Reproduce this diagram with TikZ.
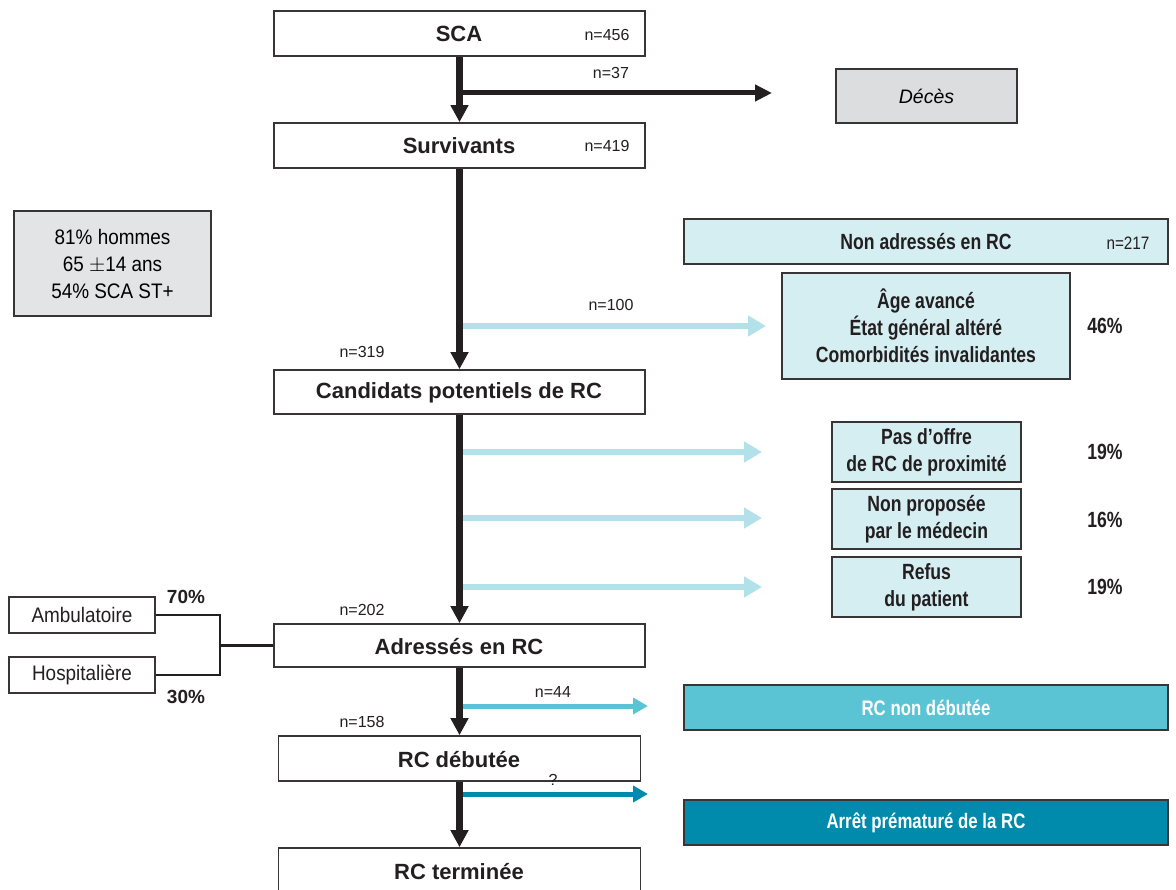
\documentclass[tikz,border=0pt]{standalone}
\usepackage{fontspec}
\setmainfont{Liberation Sans}
\newfontfamily\cond{Liberation Sans}[FakeStretch=0.8]
\newfontfamily\semicond{Liberation Sans}[FakeStretch=0.9]
\newfontfamily\ncond{Liberation Sans}[FakeStretch=0.85]
\usetikzlibrary{arrows.meta,calc}
\definecolor{ink}{HTML}{231F20}
\definecolor{lblue}{HTML}{D5EEF2}
\definecolor{arrblue}{HTML}{B2E1E9}
\definecolor{midblue}{HTML}{5BC4D4}
\definecolor{darkblue}{HTML}{008AAC}
\definecolor{greyfill}{HTML}{E3E4E6}
\definecolor{decesfill}{HTML}{DCDDDF}
\tikzset{
  box/.style={draw=ink!90, line width=1.6pt, fill=white, inner sep=0pt, align=center},
  mainlbl/.style={font=\bfseries\fontsize{22}{26}\selectfont, text=ink},
  nlbl/.style={font=\fontsize{16}{19}\selectfont, text=ink, inner sep=0pt},
  condlbl/.style={font=\cond\bfseries\fontsize{22}{27}\selectfont, text=ink, align=center},
  pctlbl/.style={font=\cond\bfseries\fontsize{22}{26}\selectfont, text=ink, inner sep=0pt},
  flow/.style={draw=ink, line width=7pt, -{Triangle[length=17pt,width=17pt]}},
  flowh/.style={draw=ink, line width=5pt, -{Triangle[length=17pt,width=16pt]}},
  lflow/.style={draw=arrblue, line width=6pt, -{Triangle[length=18pt,width=20pt]}},
  mflow/.style={draw=midblue, line width=5pt, -{Triangle[length=15pt,width=16pt]}},
  dflow/.style={draw=darkblue, line width=5pt, -{Triangle[length=15pt,width=16pt]}},
  bracket/.style={draw=ink, line width=2.4pt},
}
\begin{document}
\begin{tikzpicture}[x=1pt,y=-1pt]
\useasboundingbox (0,0) rectangle (1176,890);
\fill[white] (0,0) rectangle (1176,890);

% main flow boxes
\node[box, minimum width=371pt, minimum height=45pt] (sca) at (459.5,33.5) {};
\node[mainlbl] (scat) at (459,34) {SCA};
\node[nlbl] (scan) at (607,35) {n=456};

\node[box, minimum width=371pt, minimum height=45pt] (surv) at (459.5,145.5) {};
\node[mainlbl] (survt) at (459,146) {Survivants};
\node[nlbl] (survn) at (607,146) {n=419};

\node[box, minimum width=371pt, minimum height=44pt] (cand) at (459.5,392) {};
\node[mainlbl] (candt) at (459,393) {Candidats potentiels de RC};

\node[box, minimum width=371pt, minimum height=43pt] (adr) at (459.5,645.5) {};
\node[mainlbl] (adrt) at (459,647) {Adressés en RC};

\node[box, minimum width=362pt, minimum height=45pt] (deb) at (459.5,758.5) {};
\node[mainlbl] (debt) at (459,760) {RC débutée};

\node[box, minimum width=362pt, minimum height=52pt] (term) at (459.5,874) {};
\node[mainlbl] (termt) at (459,872) {RC terminée};

% side boxes
\node[box, fill=decesfill, minimum width=181pt, minimum height=54pt,
      font=\itshape\fontsize{19.5}{23}\selectfont] (deces) at (926.5,96) {Décès};

\node[box, fill=greyfill, minimum width=197pt, minimum height=105pt,
      font=\semicond\fontsize{21}{27}\selectfont] (info) at (112.5,263.5)
      {81\% hommes\\65 $\pm$14 ans\\54\% SCA ST+};

\node[box, fill=lblue, minimum width=484pt, minimum height=45pt] (nonadr) at (926,241.5) {};
\node[condlbl] (nonadrt) at (926,242) {Non adressés en RC};
\node[nlbl, font=\ncond\fontsize{18}{21}\selectfont] (nonadrn) at (1128,243) {n=217};

\node[box, fill=lblue, minimum width=288pt, minimum height=106pt, condlbl] (age) at (926,326)
      {Âge avancé\\État général altéré\\Comorbidités invalidantes};
\node[pctlbl] (p46) at (1105,326) {46\%};

\node[box, fill=lblue, minimum width=189pt, minimum height=60pt, condlbl] (offre) at (926.5,452)
      {Pas d’offre\\de RC de proximité};
\node[pctlbl] (p19a) at (1105,452) {19\%};
\node[box, fill=lblue, minimum width=189pt, minimum height=60pt, condlbl] (nonprop) at (926.5,519)
      {Non proposée\\par le médecin};
\node[pctlbl] (p16) at (1105,520) {16\%};
\node[box, fill=lblue, minimum width=189pt, minimum height=60pt, condlbl] (refus) at (926.5,587)
      {Refus\\du patient};
\node[pctlbl] (p19b) at (1105,587) {19\%};

\node[box, fill=midblue, minimum width=484pt, minimum height=45pt,
      font=\cond\bfseries\fontsize{21}{25}\selectfont, text=white] (nondeb) at (926,707.5) {RC non débutée};
\node[box, fill=darkblue, minimum width=484pt, minimum height=45pt,
      font=\cond\bfseries\fontsize{21}{25}\selectfont, text=white] (arret) at (926,822.5) {Arrêt prématuré de la RC};

% ambulatoire / hospitaliere
\node[box, minimum width=146pt, minimum height=36pt, font=\semicond\fontsize{21}{24}\selectfont, text=ink] (amb) at (82,615) {Ambulatoire};
\node[box, minimum width=146pt, minimum height=36pt, font=\semicond\fontsize{21}{24}\selectfont, text=ink] (hosp) at (82,675) {Hospitalière};
\node[font=\bfseries\fontsize{19}{22}\selectfont, text=ink, inner sep=0pt] (p70) at (186,597) {70\%};
\node[font=\bfseries\fontsize{19}{22}\selectfont, text=ink, inner sep=0pt] (p30) at (186,697) {30\%};
\coordinate (brk) at (220,645.5);
\draw[bracket] (amb.east) -| (brk) |- (hosp.east);
\draw[bracket] (brk) -- (adr.west);

% n labels
\node[nlbl] (n37) at (611,73) {n=37};
\node[nlbl] (n100) at (611,305) {n=100};
\node[nlbl] (n319) at (362,352) {n=319};
\node[nlbl] (n202) at (362,610) {n=202};
\node[nlbl] (n158) at (362,722) {n=158};
\node[nlbl] (n44) at (553,692) {n=44};
\node[nlbl] (nq) at (553,780) {?};

% branch coordinates
\coordinate (b37) at (460,93);   \coordinate (e37) at (772,93);
\coordinate (b100) at (460,326); \coordinate (e100) at (766,326);
\coordinate (bo) at (460,452);   \coordinate (eo) at (762,452);
\coordinate (bp) at (460,518);   \coordinate (ep) at (762,518);
\coordinate (br) at (460,587);   \coordinate (er) at (762,587);
\coordinate (b44) at (460,706);  \coordinate (e44) at (648,706);
\coordinate (bq) at (460,794);   \coordinate (eq) at (648,794);

% side branches (drawn first so main line is on top)
\draw[flowh] (b37) -- (e37);
\draw[lflow] (b100) -- (e100);
\draw[lflow] (bo) -- (eo);
\draw[lflow] (bp) -- (ep);
\draw[lflow] (br) -- (er);
\draw[mflow] (b44) -- (e44);
\draw[dflow] (bq) -- (eq);

% main flow
\draw[flow] (sca) -- (surv);
\draw[flow] (surv) -- (cand);
\draw[flow] (cand) -- (adr);
\draw[flow] (adr) -- (deb);
\draw[flow] (deb) -- (term);
\end{tikzpicture}
\end{document}
